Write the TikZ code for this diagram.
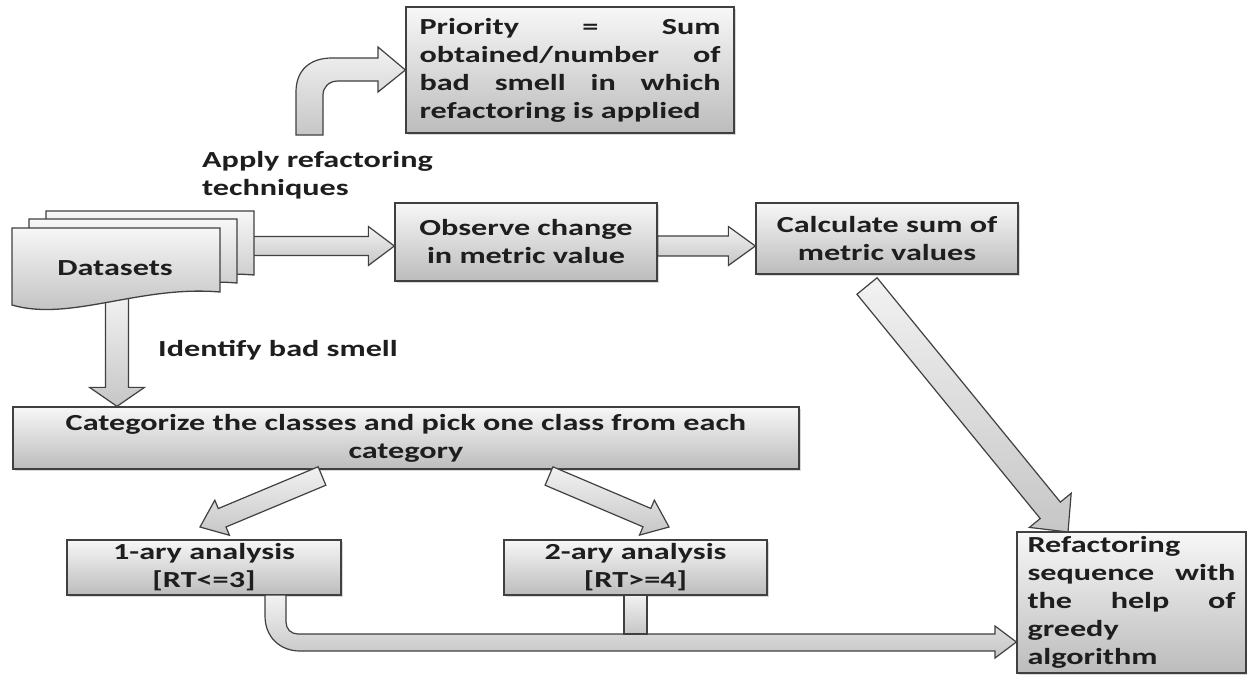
\documentclass[tikz,border=0pt]{standalone}
\usepackage{fontspec}
\newfontfamily\cfont[FakeStretch=1.40]{Carlito}
\usetikzlibrary{calc,shadows}
\definecolor{bd}{HTML}{404040}
\definecolor{gtop}{HTML}{F7F7F7}
\definecolor{gbot}{HTML}{BCBCBC}
\definecolor{atop}{HTML}{F2F2F2}
\definecolor{abot}{HTML}{C6C6C6}
\definecolor{txt}{HTML}{1E1E1E}
\tikzset{
  txtfont/.style={font=\cfont\bfseries\fontsize{23}{28}\selectfont, text=txt},
  box/.style={draw=bd, line width=1.3pt, top color=gtop, bottom color=gbot,
    inner sep=0pt, align=center, txtfont,
    drop shadow={opacity=0.3, shadow xshift=1.5pt, shadow yshift=-1.5pt}},
  barrow/.style={draw=bd, line width=1.2pt, top color=atop, bottom color=abot, line join=miter},
  docsty/.style={draw=bd, line width=1.3pt, top color=gtop, bottom color=gbot},
  lbl/.style={txtfont, inner sep=0pt, align=left},
}
\newcommand\blockarr[5]{%
  \coordinate (bah) at ($(#2)!#5!(#1)$);
  \path[barrow] ($(#1)!#3!90:(#2)$) -- ($(bah)!#3!90:(#2)$) -- ($(bah)!#4!90:(#2)$)
    -- (#2) -- ($(bah)!#4!-90:(#2)$) -- ($(bah)!#3!-90:(#2)$) -- ($(#1)!#3!-90:(#2)$) -- cycle;}
\begin{document}
\begin{tikzpicture}[x=1pt,y=-1pt]
\useasboundingbox (0,0) rectangle (1247,675);
\fill[white] (0,0) rectangle (1247,675);

% boxes
\node[box, minimum width=328pt, minimum height=126pt, text width=301pt, align=justify] (pri) at (570,70)
  {Priority\hfill=\hfill Sum\\obtained/number\hfill of\\bad\hfill smell\hfill in\hfill which\\refactoring is applied};
\node[box, minimum width=262pt, minimum height=78pt] (obs) at (526,242) {Observe change\\in metric value};
\node[box, minimum width=262pt, minimum height=71pt] (calc) at (887,238.5) {Calculate sum of\\metric values};
\node[box, minimum width=786pt, minimum height=62pt] (cat) at (406,438) {Categorize the classes and pick one class from each\\category};
\node[box, minimum width=274pt, minimum height=55pt] (one) at (204,567.5) {1-ary analysis\\{}[RT<=3]};
\node[box, minimum width=263pt, minimum height=55pt] (two) at (635.5,567.5) {2-ary analysis\\{}[RT>=4]};
\node[box, minimum width=229pt, minimum height=141pt, text width=208pt, align=justify] (ref) at (1131.5,602.5)
  {Refactoring\\sequence\hfill with\\the\hfill help\hfill of\\greedy\\algorithm};

% labels
\node[lbl, anchor=north west] (apply) at (202,151) {Apply refactoring\\techniques};
\node[lbl, anchor=base west] (ident) at (158,356) {Identify bad smell};

% connector coordinates
\coordinate (a1s) at (250,246);
\coordinate (a1t) at (obs.west |- a1s);
\coordinate (a2s) at (obs.east |- a1s);
\coordinate (a2t) at (calc.west |- a1s);
\coordinate (dsb) at (117,296);
\coordinate (dst) at (dsb |- cat.north);
\coordinate (o1s) at (322,476);
\coordinate (o1t) at (200,527);
\coordinate (o2s) at (549,476);
\coordinate (o2t) at (669,527);
\coordinate (bgs) at (867,286);
\coordinate (bgt) at (1068,532);
\coordinate (rt) at (ref.west |- 0,642);

% block arrows
\blockarr{a1s}{a1t}{9.5pt}{19.5pt}{26pt}
\blockarr{a2s}{a2t}{10pt}{19.5pt}{27pt}
\blockarr{dsb}{dst}{11.5pt}{27.5pt}{19pt}
\blockarr{o1s}{o1t}{10pt}{19pt}{24pt}
\blockarr{o2s}{o2t}{10pt}{19pt}{24pt}
\blockarr{bgs}{bgt}{13pt}{27pt}{28pt}

% bent arrow to priority box
\path[barrow] (296,135) -- (296,92) .. controls (296,70) and (310,58) .. (332,58) -- (378,58) -- (378,47)
  -- (pri.west) -- (378,92) -- (378,81) -- (338,81) .. controls (329,81) and (323,87) .. (323,95) -- (323,135) -- cycle;

% bottom connector from 1-ary and 2-ary to refactoring box
\path[barrow] (265,595) -- (265,616) .. controls (265,637) and (280,651) .. (300,651) -- (995,651) -- (995,658)
  -- (rt) -- (995,626) -- (995,634) -- (298,634) .. controls (291,634) and (286,629) .. (286,622) -- (286,595) -- cycle;
\path[barrow] (624,595) rectangle (647,634);

% datasets (multi-document)
\begin{scope}[shift={(34,-17)}]
  \path[docsty] (12,228) -- (220,228) -- (220,292) .. controls (140,285) and (70,322) .. (12,305) -- cycle;
\end{scope}
\begin{scope}[shift={(17,-9)}]
  \path[docsty] (12,228) -- (220,228) -- (220,292) .. controls (140,285) and (70,322) .. (12,305) -- cycle;
\end{scope}
\path[docsty] (12,228) -- (220,228) -- (220,292) .. controls (140,285) and (70,322) .. (12,305) -- cycle;
\node[lbl] (ds) at (115,268) {Datasets};
\end{tikzpicture}
\end{document}
